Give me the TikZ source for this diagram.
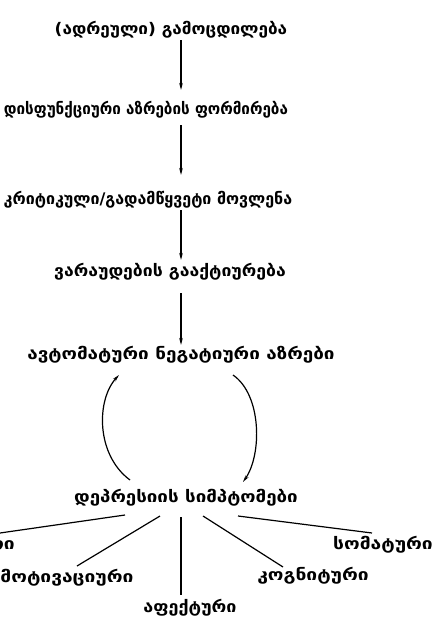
\documentclass[tikz,border=0pt]{standalone}
\usepackage{fontspec}
\setmainfont{DejaVu Sans}
\usetikzlibrary{arrows.meta}
\begin{document}
\begin{tikzpicture}[x=1pt,y=-1pt,
  lbl/.style={inner sep=0pt,font=\bfseries\fontsize{16}{18}\selectfont},
  arr/.style={line width=1.2pt,-{Stealth[length=7pt,width=3.5pt]}},
  ln/.style={line width=1.2pt}]
\useasboundingbox (0,0) rectangle (438,621);
\fill[white] (0,0) rectangle (438,621);
\coordinate (ax) at (181,0);
\node[lbl] (t1) at (171,30) {\scalebox{1.07}[1]{(ადრეული) გამოცდილება}};
\node[lbl] (t2) at (146,110) {\scalebox{0.95}[1]{დისფუნქციური აზრების ფორმირება}};
\node[lbl] (t3) at (148,200) {\scalebox{1.0}[1]{კრიტიკული/გადამწყვეტი მოვლენა}};
\node[lbl] (t4) at (170,272) {\scalebox{1.1}[1]{ვარაუდების გააქტიურება}};
\node[lbl] (t5) at (181,355) {\scalebox{1.18}[1]{ავტომატური ნეგატიური აზრები}};
\node[lbl] (t6) at (186,498) {\scalebox{1.17}[1]{დეპრესიის სიმპტომები}};
\node[lbl,anchor=east] (c1) at (15,545) {\scalebox{1.2}[1]{ქცევითი}};
\node[lbl] (c2) at (67,578) {\scalebox{1.2}[1]{მოტივაციური}};
\node[lbl] (c3) at (190,608) {\scalebox{1.12}[1]{აფექტური}};
\node[lbl] (c4) at (313,576) {\scalebox{1.2}[1]{კოგნიტური}};
\node[lbl] (c5) at (383,545) {\scalebox{1.2}[1]{სომატური}};
\draw[arr] (ax |- 0,40) -- (ax |- 0,90);
\draw[arr] (ax |- 0,125) -- (ax |- 0,175);
\draw[arr] (ax |- 0,210) -- (ax |- 0,260);
\draw[arr] (ax |- 0,293) -- (ax |- 0,345);
\coordinate (la) at (130,480); \coordinate (lb) at (119,375);
\coordinate (ra) at (233,375); \coordinate (rb) at (243,482);
\draw[arr] (la) .. controls (96,455) and (96,400) .. (lb);
\draw[arr] (ra) .. controls (262,395) and (262,455) .. (rb);
\coordinate (s1a) at (125,515); \coordinate (s1b) at (0,533);
\coordinate (s2a) at (160,516); \coordinate (s2b) at (77,566);
\coordinate (s3a) at (181,517); \coordinate (s3b) at (181,595);
\coordinate (s4a) at (203,516); \coordinate (s4b) at (283,567);
\coordinate (s5a) at (238,516); \coordinate (s5b) at (372,533);
\draw[ln] (s1a) -- (s1b);
\draw[ln] (s2a) -- (s2b);
\draw[ln] (s3a) -- (s3b);
\draw[ln] (s4a) -- (s4b);
\draw[ln] (s5a) -- (s5b);
\end{tikzpicture}
\end{document}
